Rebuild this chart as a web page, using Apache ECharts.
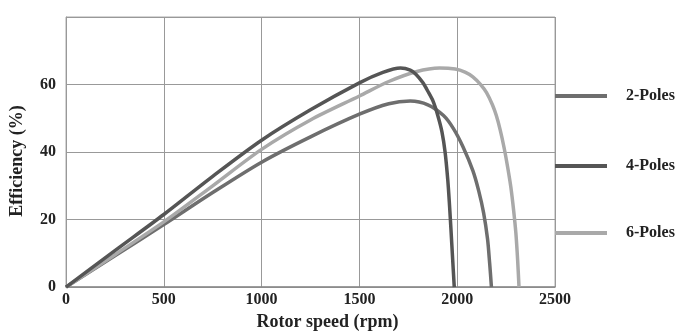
<!DOCTYPE html>
<html>
<head>
<meta charset="utf-8">
<script src="https://cdn.jsdelivr.net/npm/echarts@6/dist/echarts.min.js"></script>
<style>
  html, body { margin: 0; padding: 0; background: #fff; }
  #chart { width: 692px; height: 336px; }
</style>
</head>
<body>
<div id="chart"></div>
<script>
// values: [rotor speed (rpm), efficiency (%)]
const poles2 = [
  [0, 0], [250, 9.3], [500, 18.5], [750, 28], [1000, 37], [1250, 44.5],
  [1500, 51.2], [1650, 54.3], [1760, 55.1], [1850, 54], [1930, 50.8],
  [1980, 47], [2030, 41.5], [2080, 34.5], [2110, 28.5], [2135, 22],
  [2155, 14.3], [2166, 7], [2175, 0]
];
const poles4 = [
  [0, 0], [250, 10.8], [500, 21.5], [750, 32.8], [1000, 43.5], [1250, 52.5],
  [1500, 60.5], [1620, 63.6], [1710, 64.9], [1760, 64.3], [1790, 63],
  [1825, 60.5], [1850, 58], [1877, 55], [1900, 51], [1922, 46],
  [1938, 40], [1952, 31.6], [1961, 24], [1968, 17.2], [1977, 8], [1985, 0]
];
const poles6 = [
  [0, 0], [250, 9.6], [500, 19.3], [750, 30], [1000, 40.8], [1250, 49.5],
  [1500, 56.6], [1650, 60.9], [1790, 63.8], [1910, 64.9], [1990, 64.6],
  [2040, 63.7], [2080, 62.3], [2120, 60], [2150, 57.6], [2180, 54],
  [2200, 50.8], [2220, 46.5], [2240, 41.2], [2258, 35.5], [2274, 29.7],
  [2288, 23], [2300, 16], [2309, 8], [2316, 0]
];
const seriesNames = ["2-Poles", "4-Poles", "6-Poles"];
const seriesColors = ["#6e6e6e", "#555555", "#a9a9a9"];
const xTicks = [0, 500, 1000, 1500, 2000, 2500];
const yTicks = [0, 20, 40, 60, 80];

const chart = echarts.init(document.getElementById("chart"));

const font = "'Liberation Serif', 'DejaVu Serif', serif";
const data = [poles2, poles4, poles6];

// one legend per item so each sits next to its own row
const legendTops = [88, 158, 225];
const legends = seriesNames.map((name, i) => ({
  data: [name],
  left: 555,
  top: legendTops[i],
  padding: 0,
  icon: "rect",
  itemWidth: 52,
  itemHeight: 4,
  textStyle: {
    fontFamily: font,
    fontWeight: "bold",
    fontSize: 16,
    color: "#222",
    padding: [0, 0, 0, 14],
  },
}));

const options = {
  backgroundColor: "#fff",
  animation: false,
  color: seriesColors,
  legend: legends,
  grid: {
    left: 64,
    right: 137,
    top: 17,
    bottom: 43,
    show: true,
    borderColor: "#aaa",
    borderWidth: 1,
  },
  xAxis: {
    type: "value",
    min: xTicks[0],
    max: xTicks[xTicks.length - 1],
    interval: 500,
    name: "Rotor speed (rpm)",
    nameLocation: "middle",
    nameGap: 25,
    nameTextStyle: {
      fontFamily: font,
      fontWeight: "bold",
      fontSize: 18,
      color: "#222",
      padding: [0, 0, 0, 34],
    },
    axisLine: { lineStyle: { color: "#888", width: 1.5 } },
    axisTick: { show: false },
    splitLine: { lineStyle: { color: "#999", width: 1 } },
    axisLabel: {
      fontFamily: font,
      fontWeight: "bold",
      fontSize: 16,
      color: "#222",
      margin: 5,
      formatter: (v) => String(v),
    },
  },
  yAxis: {
    type: "value",
    min: yTicks[0],
    max: yTicks[yTicks.length - 1],
    interval: 20,
    name: "Efficiency (%)",
    nameLocation: "middle",
    nameGap: 40,
    nameTextStyle: {
      fontFamily: font,
      fontWeight: "bold",
      fontSize: 18,
      color: "#222",
      padding: [0, 18, 0, 0],
    },
    axisLine: { show: true, lineStyle: { color: "#999" } },
    axisTick: { show: false },
    splitLine: { lineStyle: { color: "#999", width: 1 } },
    axisLabel: {
      fontFamily: font,
      fontWeight: "bold",
      fontSize: 16,
      color: "#222",
      margin: 10,
      formatter: (v) => (v === 80 ? "" : String(v)),
    },
  },
  series: seriesNames.map((name, i) => ({
    name: name,
    type: "line",
    data: data[i],
    smooth: 0.3,
    showSymbol: false,
    symbol: "none",
    lineStyle: { width: 3.5, color: seriesColors[i] },
    z: i === 1 ? 4 : 3,
  })),
};

chart.setOption(options);
</script>
</body>
</html>
